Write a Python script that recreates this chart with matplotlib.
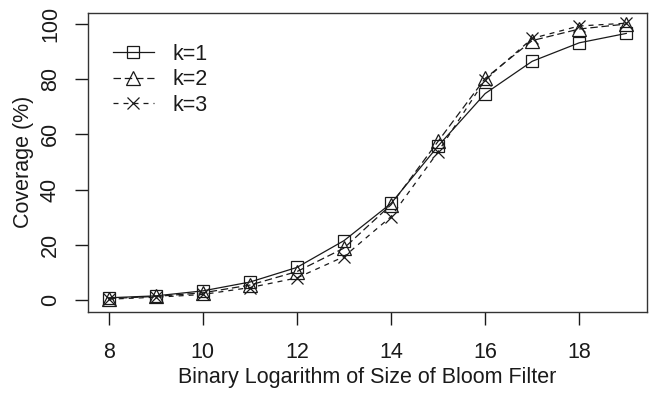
import matplotlib
matplotlib.use("Agg")
import matplotlib.pyplot as plt

x = [8, 9, 10, 11, 12, 13, 14, 15, 16, 17, 18, 19]
k1 = [0.8, 1.5, 3.3, 6.5, 11.8, 21.5, 35.0, 55.8, 74.8, 86.5, 93.2, 96.6]
k2 = [0.5, 1.3, 2.6, 5.4, 10.3, 18.8, 34.5, 57.5, 80.3, 94.0, 98.2, 100.0]
k3 = [0.3, 1.0, 2.0, 4.5, 8.0, 15.7, 30.2, 53.7, 79.8, 94.8, 99.3, 100.3]
labels = ["k=1", "k=2", "k=3"]
xticks = [8, 10, 12, 14, 16, 18]
yticks = [0, 20, 40, 60, 80, 100]

plt.rcParams['font.family'] = ['Liberation Sans', 'DejaVu Sans']
fs = 15.5
col = '#1a1a1a'

fig = plt.figure(figsize=(6.53, 3.93), dpi=100)
ax = fig.add_axes([88/653, 1-312/393, (647-88)/653, (312-13)/393])

ax.plot(x, k1, '-', color=col, lw=0.9, marker='s', ms=8.5, mfc='none', mec=col, mew=0.9, label=labels[0])
ax.plot(x, k2, color=col, lw=0.9, ls=(0, (6, 3)), marker='^', ms=9.5, mfc='none', mec=col, mew=0.9, label=labels[1])
ax.plot(x, k3, color=col, lw=0.9, ls=(0, (4, 4)), marker='x', ms=8.5, mfc='none', mec=col, mew=0.9, label=labels[2])

ax.set_xlim(7.56, 19.44)
ax.set_ylim(-4.35, 104.0)
ax.set_xticks(xticks)
ax.set_yticks(yticks)
ax.set_yticklabels([str(v) for v in yticks], rotation=90, va='center')
ax.tick_params(axis='both', direction='out', length=9.5, width=1.0, colors=col, labelsize=fs)
ax.tick_params(axis='x', pad=12)
ax.tick_params(axis='y', pad=10)
for s in ax.spines.values():
    s.set_color('#333333')
    s.set_linewidth(1.0)

fig.text(367/653, 1-377/393, "Binary Logarithm of Size of Bloom Filter", ha='center', va='center', fontsize=fs, color=col)
fig.text(24/653, 1-162/393, "Coverage (%)", ha='center', va='center', rotation=90, fontsize=fs, color=col)

leg = ax.legend(loc='upper left', bbox_to_anchor=(25/559, 1-31/299), frameon=False, fontsize=fs,
                handlelength=1.9, handletextpad=0.85, labelspacing=0.2, borderpad=0, borderaxespad=0)
for t in leg.get_texts():
    t.set_color(col)

fig.savefig("out.png", dpi=100)
